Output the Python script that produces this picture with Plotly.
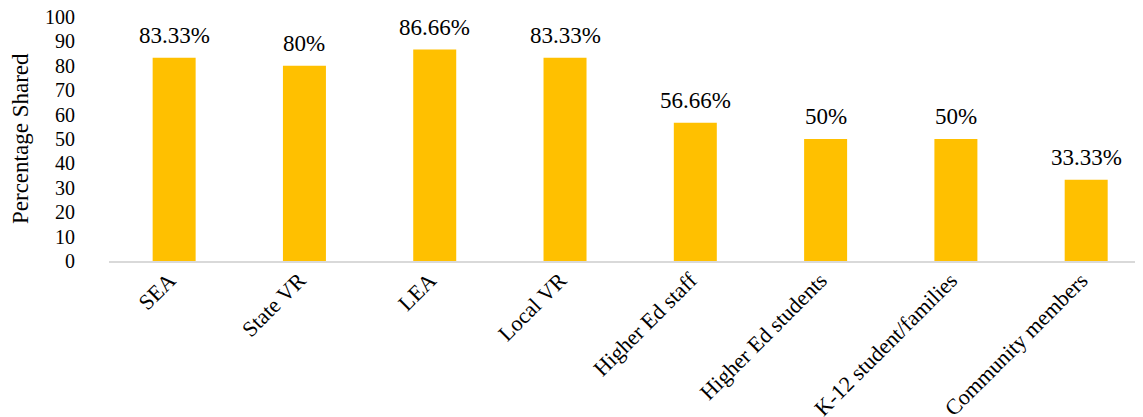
import plotly.graph_objects as go

categories = ["SEA", "State VR", "LEA", "Local VR", "Higher Ed staff",
              "Higher Ed students", "K-12 student/families", "Community members"]
values = [83.33, 80, 86.66, 83.33, 56.66, 50, 50, 33.33]
value_labels = ["83.33%", "80%", "86.66%", "83.33%", "56.66%", "50%", "50%", "33.33%"]
y_ticks = [0, 10, 20, 30, 40, 50, 60, 70, 80, 90, 100]
y_title = "Percentage Shared"

FONT = "Liberation Serif, Times New Roman, serif"

fig = go.Figure()
fig.add_trace(go.Bar(
    x=categories, y=values,
    marker=dict(color="#FFC000", line=dict(width=0)),
    hoverinfo="skip",
))

for c, v, t in zip(categories, values, value_labels):
    fig.add_annotation(x=c, y=v, text=t, showarrow=False, xanchor="center",
                       yanchor="bottom", yshift=8,
                       font=dict(family=FONT, size=23, color="#000000"))

fig.add_annotation(xref="paper", yref="paper", x=0, y=0.5, xshift=-89,
                   text=y_title, textangle=-90, showarrow=False,
                   xanchor="center", yanchor="middle",
                   font=dict(family=FONT, size=23, color="#000000"))

# page body has an 8px default margin; figure sized to fit the window exactly
fig.update_layout(
    width=1135, height=409,
    margin=dict(l=101, r=0, t=9, b=156, autoexpand=False),
    paper_bgcolor="white", plot_bgcolor="white",
    bargap=0.67, showlegend=False,
    font=dict(family=FONT, color="#000000"),
)
fig.update_xaxes(
    range=[-0.5, 7.436], showgrid=False, zeroline=False,
    showline=True, linecolor="#D9D9D9", linewidth=1.5,
    ticks="", tickangle=-45, ticklabelshift=-5, ticklabelstandoff=-4,
    ticklabeloverflow="allow",
    tickfont=dict(family=FONT, size=22, color="#000000"),
    automargin=False,
)
fig.update_yaxes(
    range=[0, 100.01], tickvals=y_ticks, showgrid=False, zeroline=False,
    showline=False, ticks="", ticklabelstandoff=33, ticklabeloverflow="allow",
    tickfont=dict(family=FONT, size=20, color="#000000"),
    automargin=False,
)

fig.write_html("out.html")
